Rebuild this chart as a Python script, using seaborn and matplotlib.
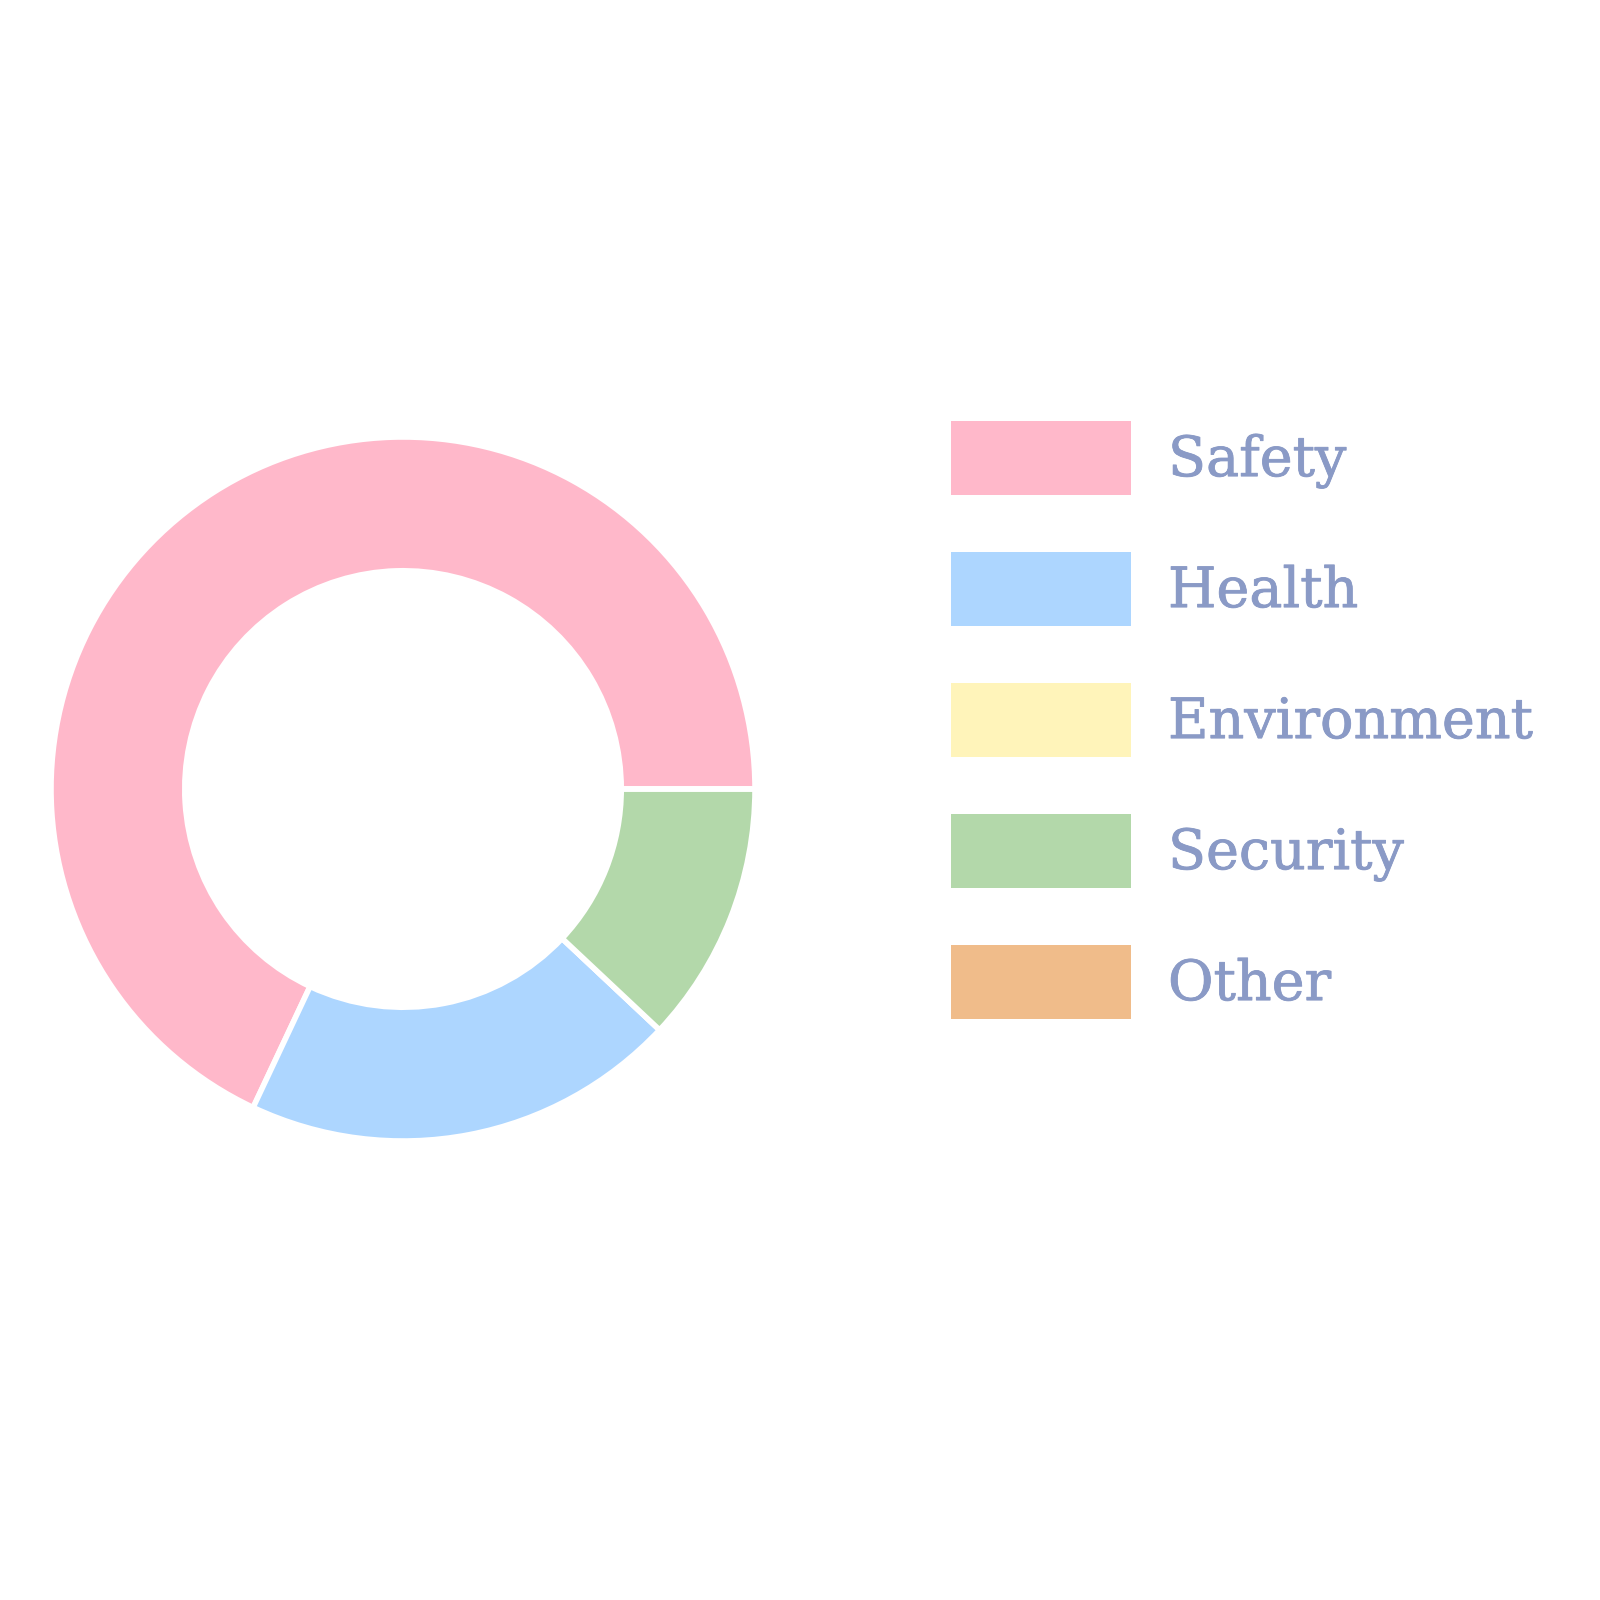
import matplotlib
matplotlib.use("Agg")
import matplotlib.pyplot as plt
import matplotlib.patches as mpatches
import matplotlib.patheffects as pe
import seaborn as sns

categories = ["Safety", "Health", "Environment", "Security", "Other"]
values = [17, 5, 0, 3, 0]
colors = ["#FFB8CA", "#ADD6FF", "#FFF4BA", "#B3D8AA", "#F0BC8A"]
text_color = "#8A9AC6"

sns.set_theme(style="white")
plt.rcParams["font.family"] = ["DejaVu Serif"]
palette = sns.color_palette(colors)

fig = plt.figure(figsize=(16, 16), dpi=100)
fig.patch.set_facecolor("white")

cx, cy, r = 403, 811, 352
ax = fig.add_axes([(cx - r) / 1600, (cy - r) / 1600, 2 * r / 1600, 2 * r / 1600])
ax.pie(values, colors=palette, startangle=0, counterclock=True,
       radius=1.0,
       wedgeprops=dict(width=0.38, edgecolor="white", linewidth=4))
ax.set_xlim(-1, 1)
ax.set_ylim(-1, 1)
ax.set_aspect("equal")
ax.axis("off")

fs_pt = 40
fs_px = fs_pt * 100 / 72
box_h = 74 / fs_px
hh = (box_h - 0.245) / 0.65
handles = [mpatches.Patch(facecolor=c, edgecolor="none", label=l)
           for c, l in zip(palette, categories)]
leg = fig.legend(handles=handles, loc="upper left",
                 bbox_to_anchor=(951 / 1600, 1 - 421 / 1600),
                 frameon=False, fontsize=fs_pt, labelcolor=text_color,
                 handlelength=180 / fs_px, handleheight=hh,
                 labelspacing=(131 - 74) / fs_px, handletextpad=37 / fs_px,
                 borderpad=0, borderaxespad=0)
for t in leg.get_texts():
    t.set_path_effects([pe.withStroke(linewidth=0.6, foreground=text_color)])

fig.savefig("out.png", dpi=100, facecolor="white")
